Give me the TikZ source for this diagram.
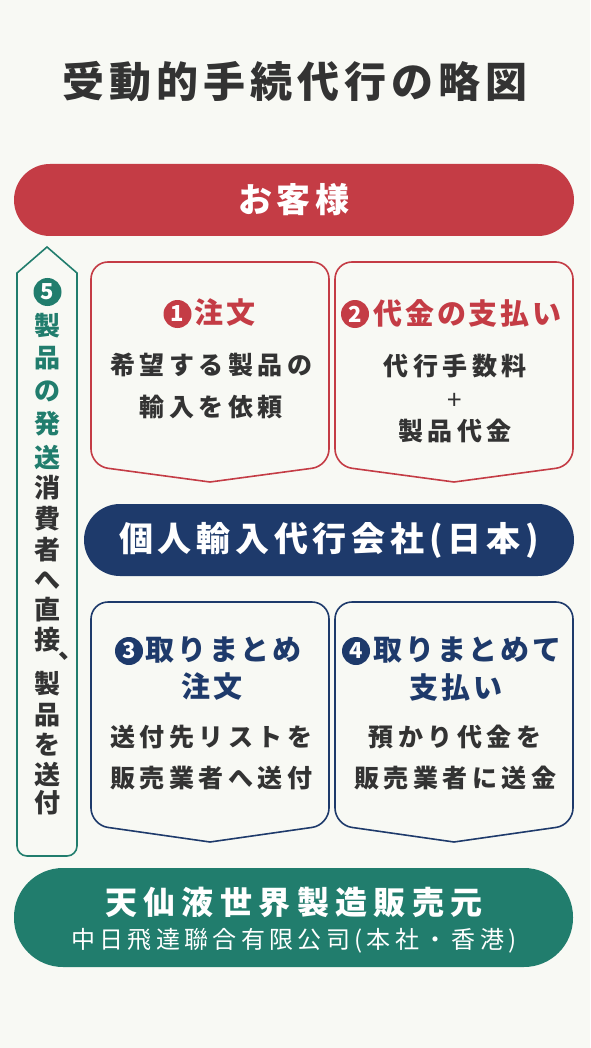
\documentclass[tikz,border=0pt]{standalone}
\usepackage{fontspec}
\setmainfont{Noto Sans CJK JP}
\definecolor{bg}{HTML}{F8F9F4}
\definecolor{txt}{HTML}{333333}
\definecolor{cred}{HTML}{C43C45}
\definecolor{cblue}{HTML}{1E3A6B}
\definecolor{cgreen}{HTML}{217D6D}
\tikzset{
  pill/.style={inner sep=0pt, text=white},
  boxline/.style={line width=1.6pt, line cap=round, line join=round, rounded corners=17pt},
  headtxt/.style={inner sep=0pt, font=\fontsize{29}{34}\selectfont\bfseries\addfontfeature{LetterSpace=10}},
  bodytxt/.style={inner sep=0pt, text=txt, font=\fontsize{25}{30}\selectfont\bfseries\addfontfeature{LetterSpace=18}},
  vchar/.style={inner sep=0pt, font=\fontsize{26}{30}\selectfont\bfseries},
  numcirc/.style={circle, inner sep=0pt, minimum size=28pt, text=white, font=\fontsize{22}{22}\selectfont\bfseries},
}
\begin{document}
\begin{tikzpicture}[x=1pt,y=-1pt]
\fill[bg] (0,0) rectangle (590,1048);
\useasboundingbox (0,0) rectangle (590,1048);

% title
\node[inner sep=0pt, text=txt, font=\fontsize{42}{48}\selectfont\bfseries\addfontfeature{LetterSpace=12}] (title) at (295,82) {受動的手続代行の略図};

% customer pill
\node[pill, fill=cred, rounded corners=36pt, minimum width=560pt, minimum height=72pt,
      font=\fontsize{34}{40}\selectfont\bfseries\addfontfeature{LetterSpace=12}] (customer) at (294,200) {お客様};

% green side arrow
\draw[cgreen, line width=1.6pt, line join=miter]
  (47,247) -- (77,273) -- (77,846) .. controls (77,851.5) and (72.5,856) .. (67,856)
  -- (27,856) .. controls (21.5,856) and (17,851.5) .. (17,846) -- (17,273) -- cycle;
\node[numcirc, fill=cgreen] (n5) at (47.5,292) {5};
\foreach \c/\y [count=\i] in {製/326,品/358,の/391,発/424,送/457}
  \node[vchar, text=cgreen] (g\i) at (47,\y) {\c};
\foreach \c/\y [count=\i] in {消/488,費/519,者/550,へ/580,直/610,接/640,製/684,品/715,を/745,送/774,付/803}
  \node[vchar, text=txt] (k\i) at (47,\y) {\c};
\node[vchar, text=txt] (comma) at (71,656) {、};

% box 1
\draw[cred, boxline] (210,482) -- (91,466) -- (91,262) -- (329,262) -- (329,466) -- (210,482);
\node[numcirc, fill=cred] (c1) at (177.5,314) {1};
\node[headtxt, text=cred, anchor=west] (h1) at (194,313) {注文};
\node[bodytxt] (b1a) at (211,365) {希望する製品の};
\node[bodytxt] (b1b) at (211,407) {輸入を依頼};

% box 2
\draw[cred, boxline] (454,482) -- (335,466) -- (335,262) -- (573,262) -- (573,466) -- (454,482);
\node[numcirc, fill=cred] (c2) at (355,314) {2};
\node[headtxt, text=cred, anchor=west] (h2) at (373,313) {代金の支払い};
\node[bodytxt] (b2a) at (455,366) {代行手数料};
\node[inner sep=0pt, text=txt, font=\fontsize{26}{30}\selectfont] (b2b) at (455,401) {+};
\node[bodytxt] (b2c) at (455,431) {製品代金};

% agent pill
\node[pill, fill=cblue, rounded corners=36pt, minimum width=490pt, minimum height=72pt,
      font=\fontsize{34}{40}\selectfont\bfseries\addfontfeature{LetterSpace=14}] (agent) at (329,540) {個人輸入代行会社(日本)};

% box 3
\draw[cblue, boxline] (210,842) -- (91,825) -- (91,602) -- (329,602) -- (329,825) -- (210,842);
\node[numcirc, fill=cblue] (c3) at (129,651) {3};
\node[headtxt, text=cblue, anchor=west] (h3a) at (145,650) {取りまとめ};
\node[headtxt, text=cblue] (h3b) at (212,687) {注文};
\node[bodytxt] (b3a) at (211,737) {送付先リストを};
\node[bodytxt] (b3b) at (211,778) {販売業者へ送付};

% box 4
\draw[cblue, boxline] (454,842) -- (335,825) -- (335,602) -- (573,602) -- (573,825) -- (454,842);
\node[numcirc, fill=cblue] (c4) at (356,651) {4};
\node[headtxt, text=cblue, anchor=west] (h4a) at (373,650) {取りまとめて};
\node[headtxt, text=cblue] (h4b) at (456,687) {支払い};
\node[bodytxt] (b4a) at (455,737) {預かり代金を};
\node[bodytxt] (b4b) at (455,778) {販売業者に送金};

% maker pill
\node[pill, fill=cgreen, rounded corners=49pt, minimum width=559pt, minimum height=99pt] (maker) at (293.5,917.5) {};
\node[pill, font=\fontsize{32}{36}\selectfont\bfseries\addfontfeature{LetterSpace=20}] (makername) at (294,902) {天仙液世界製造販売元};
\node[pill, font=\fontsize{24}{30}\selectfont\addfontfeature{LetterSpace=18}] (company) at (294,941) {中日飛達聯合有限公司(本社・香港)};
\end{tikzpicture}
\end{document}
